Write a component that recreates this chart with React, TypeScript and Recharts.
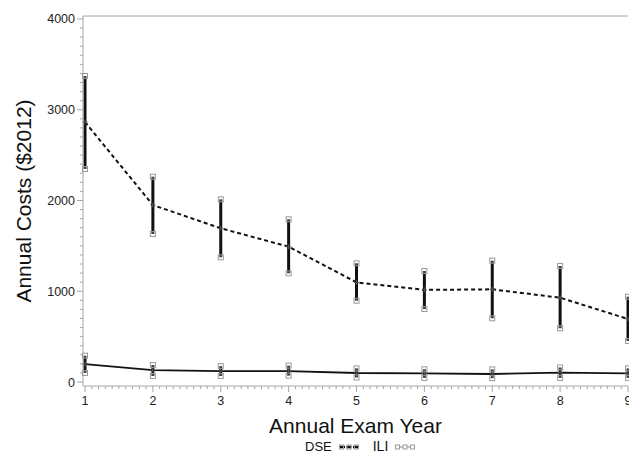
import { ComposedChart, ErrorBar, Legend, Line, ReferenceLine, XAxis, YAxis } from "recharts";

const years = [1, 2, 3, 4, 5, 6, 7, 8, 9];
const dseMean = [2865, 1950, 1694, 1491, 1098, 1015, 1021, 929, 694];
const dseLow = [2347, 1631, 1374, 1198, 896, 804, 702, 592, 452];
const dseHigh = [3372, 2262, 2013, 1793, 1308, 1223, 1337, 1278, 940];
const iliMean = [198, 132, 121, 121, 99, 95, 88, 103, 95];
const iliLow = [100, 66, 66, 70, 50, 45, 42, 45, 45];
const iliHigh = [290, 187, 175, 180, 150, 140, 139, 160, 150];

const xTickLabels = ["1", "2", "3", "4", "5", "6", "7", "8", "9"];
const yTickLabels = ["0", "1000", "2000", "3000", "4000"];

const FONT = "'Liberation Sans', Arial, Helvetica, sans-serif";
const AXIS = "#a6a6a6";
const Y_MIN = -44;
const Y_MAX = 4033;

const data = years.map((year, i) => ({
  year,
  dse: dseMean[i],
  dseLo: dseLow[i],
  dseHi: dseHigh[i],
  dseErr: [dseMean[i] - dseLow[i], dseHigh[i] - dseMean[i]],
  ili: iliMean[i],
  iliLo: iliLow[i],
  iliHi: iliHigh[i],
  iliErr: [iliMean[i] - iliLow[i], iliHigh[i] - iliMean[i]],
}));

// minor ticks: every 0.1 on x, every 100 on y
const xMajor = xTickLabels.map(Number);
const xTicks = Array.from({ length: (xMajor[xMajor.length - 1] - xMajor[0]) * 10 + 1 }, (_, i) => xMajor[0] + i / 10);
const yMajor = yTickLabels.map(Number);
const yTicks = Array.from({ length: yMajor[yMajor.length - 1] / 100 + 1 }, (_, i) => i * 100);

const isMajor = (v: number, step: number) => Math.abs(v / step - Math.round(v / step)) < 1e-6;

function XTick(props: any) {
  const { x, y, payload } = props;
  const v = payload.value;
  const major = isMajor(v, 1);
  return (
    <g>
      <line x1={x} x2={x} y1={y} y2={y + (major ? 6 : 3)} stroke={AXIS} strokeWidth={1} />
      {major && (
        <text x={x} y={y + 19} textAnchor="middle" fontSize={12.5} fill="#222" fontFamily={FONT}>
          {String(Math.round(v))}
        </text>
      )}
    </g>
  );
}

function YTick(props: any) {
  const { x, y, payload } = props;
  const v = payload.value;
  const major = isMajor(v, 1000);
  return (
    <g>
      <line x1={x - (major ? 6 : 3)} x2={x} y1={y} y2={y} stroke={AXIS} strokeWidth={1} />
      {major && (
        <text x={x - 8} y={y + 4.5} textAnchor="end" fontSize={12.5} fill="#222" fontFamily={FONT}>
          {String(v)}
        </text>
      )}
    </g>
  );
}

function CiSquare(props: any) {
  const { cx, cy } = props;
  if (cx == null || cy == null) return <g />;
  return <rect x={cx - 2.5} y={cy - 2.5} width={5} height={5} fill="#fff" fillOpacity={0.2} stroke="#999" strokeWidth={1} />;
}

function MeanMark(props: any) {
  const { cx, cy } = props;
  if (cx == null || cy == null) return <g />;
  return (
    <g stroke="#555" strokeWidth={1}>
      <line x1={cx - 2.5} x2={cx + 2.5} y1={cy} y2={cy} />
      <line x1={cx} x2={cx} y1={cy - 2.5} y2={cy + 2.5} />
    </g>
  );
}

function Sample({ dashed }: { dashed: boolean }) {
  return (
    <svg width={20} height={10} style={{ marginLeft: 7 }}>
      <line
        x1={1}
        x2={19}
        y1={5}
        y2={5}
        stroke={dashed ? "#111" : "#888"}
        strokeWidth={dashed ? 2.5 : 1}
        strokeDasharray={dashed ? "5 1.5" : undefined}
      />
      {[2.5, 10, 17.5].map((sx) => (
        <rect key={sx} x={sx - 2} y={3} width={4} height={4} fill={dashed ? "none" : "#fff"} stroke="#999" strokeWidth={1} />
      ))}
    </svg>
  );
}

function LegendRow() {
  return (
    <div style={{ display: "flex", alignItems: "center", paddingLeft: 305, paddingTop: 4, fontFamily: FONT, fontSize: 13, color: "#111", lineHeight: "11px" }}>
      <span>DSE</span>
      <Sample dashed />
      <span style={{ marginLeft: 14, fontSize: 14 }}>ILI</span>
      <Sample dashed={false} />
    </div>
  );
}

export default function App() {
  return (
    <div style={{ position: "absolute", left: 0, top: 0, width: 629, height: 453, background: "#fff" }}>
      <ComposedChart width={629} height={453} data={data} margin={{ top: 16, right: 1, bottom: 0, left: 0 }}>
        <XAxis
          dataKey="year"
          type="number"
          domain={[xMajor[0], xMajor[xMajor.length - 1]]}
          ticks={xTicks}
          interval={0}
          padding={{ left: 2, right: 0 }}
          tickSize={0}
          tickMargin={0}
          tickLine={false}
          tick={<XTick />}
          axisLine={{ stroke: AXIS }}
          height={51}
          label={{ value: "Annual Exam Year", position: "insideBottom", offset: 4, fontSize: 21, fill: "#111", fontFamily: FONT }}
        />
        <YAxis
          type="number"
          domain={[Y_MIN, Y_MAX]}
          allowDataOverflow
          ticks={yTicks}
          interval={0}
          tickSize={0}
          tickMargin={0}
          tickLine={false}
          tick={<YTick />}
          axisLine={{ stroke: AXIS }}
          width={83}
          label={{ value: "Annual Costs ($2012)", angle: -90, position: "insideLeft", offset: 24, fontSize: 21, fill: "#111", fontFamily: FONT, style: { textAnchor: "middle" } }}
        />
        <ReferenceLine y={Y_MAX} stroke={AXIS} ifOverflow="extendDomain" />
        <Legend verticalAlign="bottom" height={16} content={() => <LegendRow />} />
        <Line dataKey="dse" stroke="#111" strokeWidth={2} strokeDasharray="4 3" dot={<MeanMark />} activeDot={false} isAnimationActive={false}>
          <ErrorBar dataKey="dseErr" width={0} stroke="#111" strokeWidth={3} direction="y" isAnimationActive={false} />
        </Line>
        <Line dataKey="ili" stroke="#111" strokeWidth={1.8} dot={<MeanMark />} activeDot={false} isAnimationActive={false}>
          <ErrorBar dataKey="iliErr" width={0} stroke="#111" strokeWidth={3} direction="y" isAnimationActive={false} />
        </Line>
        <Line dataKey="dseLo" stroke="none" dot={<CiSquare />} activeDot={false} isAnimationActive={false} legendType="none" />
        <Line dataKey="dseHi" stroke="none" dot={<CiSquare />} activeDot={false} isAnimationActive={false} legendType="none" />
        <Line dataKey="iliLo" stroke="none" dot={<CiSquare />} activeDot={false} isAnimationActive={false} legendType="none" />
        <Line dataKey="iliHi" stroke="none" dot={<CiSquare />} activeDot={false} isAnimationActive={false} legendType="none" />
      </ComposedChart>
    </div>
  );
}
